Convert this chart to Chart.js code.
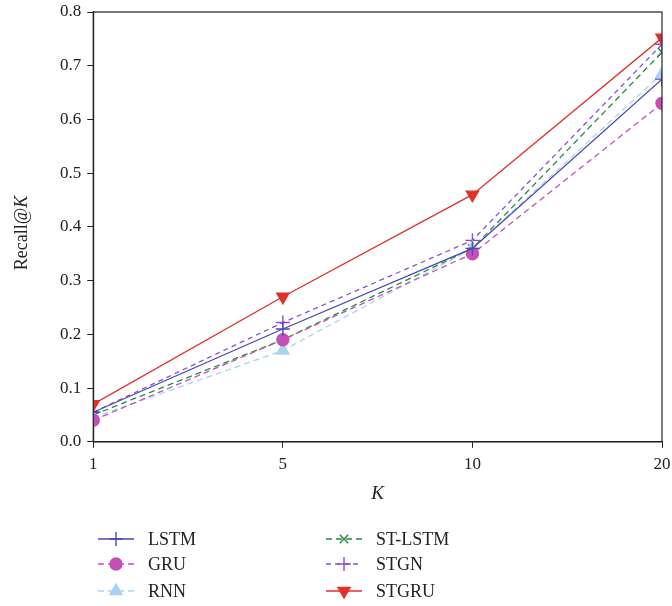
<!DOCTYPE html>
<html>
<head>
<meta charset="utf-8">
<script src="https://cdn.jsdelivr.net/npm/chart.js@4.4.0/dist/chart.umd.min.js"></script>
<style>
  html, body { margin: 0; padding: 0; background: #fff; }
  #wrap { width: 672px; height: 606px; }
</style>
</head>
<body>
<div id="wrap"><canvas id="recallChart" width="672" height="606"></canvas></div>
<script>
var kLabels = ["1", "5", "10", "20"];
var yTicks = [0, 0.1, 0.2, 0.3, 0.4, 0.5, 0.6, 0.7, 0.8];

var lstm = [0.055, 0.21, 0.36, 0.675];
var gru = [0.04, 0.19, 0.35, 0.63];
var rnn = [0.045, 0.17, 0.36, 0.685];
var stLstm = [0.05, 0.19, 0.36, 0.725];
var stgn = [0.055, 0.222, 0.375, 0.74];
var stgru = [0.07, 0.27, 0.46, 0.752];

var serif = "'Liberation Serif', 'DejaVu Serif', serif";

function series(label, data, color, style, radius, dash, rotation) {
  return {
    label: label,
    data: data,
    borderColor: color,
    backgroundColor: color,
    pointBorderColor: color,
    pointBackgroundColor: color,
    pointStyle: style,
    pointRadius: radius,
    pointBorderWidth: 1.4,
    pointRotation: rotation || 0,
    borderWidth: 1.3,
    borderDash: dash,
    tension: 0,
    fill: false,
    clip: 0
  };
}

var datasets = [
  series("LSTM", lstm, "#4a4ab0", "cross", 7, []),
  series("GRU", gru, "#c550b8", "circle", 6, [6, 4]),
  series("RNN", rnn, "#a9d3ef", "triangle", 7, [6, 4]),
  series("ST-LSTM", stLstm, "#1f8f3c", "crossRot", 6, [6, 4]),
  series("STGN", stgn, "#8d4fcf", "cross", 7, [5, 4]),
  series("STGRU", stgru, "#e0302a", "triangle", 7, [], 180)
];

// keep markers at the edges cut by the plot box
var clipToArea = {
  id: "clipToArea",
  beforeDatasetsDraw: function (chart) {
    var a = chart.chartArea;
    chart.ctx.save();
    chart.ctx.beginPath();
    chart.ctx.rect(a.left, a.top, a.right - a.left, a.bottom - a.top);
    chart.ctx.clip();
  },
  afterDatasetsDraw: function (chart) {
    chart.ctx.restore();
  }
};

var decorations = {
  id: "decorations",
  afterDraw: function (chart) {
    var ctx = chart.ctx;
    var a = chart.chartArea;
    ctx.save();
    ctx.strokeStyle = "#222";
    ctx.lineWidth = 1.2;
    ctx.strokeRect(a.left, a.top, a.right - a.left, a.bottom - a.top);

    // y axis title with italic K
    ctx.fillStyle = "#222";
    ctx.translate(22, (a.top + a.bottom) / 2 + 6);
    ctx.rotate(-Math.PI / 2);
    ctx.textBaseline = "middle";
    ctx.font = "18px " + serif;
    var w1 = ctx.measureText("Recall@").width;
    ctx.font = "italic 18px " + serif;
    var w2 = ctx.measureText("K").width;
    var start = -(w1 + w2) / 2;
    ctx.textAlign = "left";
    ctx.font = "18px " + serif;
    ctx.fillText("Recall@", start, 0);
    ctx.font = "italic 18px " + serif;
    ctx.fillText("K", start + w1, 0);
    ctx.restore();

    // legend in two columns
    var cols = [98, 326];
    var rows = [539, 564, 591];
    ctx.save();
    chart.data.datasets.forEach(function (ds, i) {
      var x0 = cols[Math.floor(i / 3)];
      var y = rows[i % 3];
      ctx.strokeStyle = ds.borderColor;
      ctx.lineWidth = ds.borderWidth;
      ctx.setLineDash(ds.borderDash);
      ctx.beginPath();
      ctx.moveTo(x0, y);
      ctx.lineTo(x0 + 36, y);
      ctx.stroke();
      ctx.setLineDash([]);
      ctx.fillStyle = ds.pointBackgroundColor;
      ctx.strokeStyle = ds.pointBorderColor;
      ctx.lineWidth = ds.pointBorderWidth;
      Chart.helpers.drawPoint(ctx, {
        pointStyle: ds.pointStyle,
        rotation: ds.pointRotation,
        radius: ds.pointRadius,
        borderWidth: ds.pointBorderWidth
      }, x0 + 18, y);
      ctx.fillStyle = "#222";
      ctx.font = "18px " + serif;
      ctx.textAlign = "left";
      ctx.textBaseline = "middle";
      ctx.fillText(ds.label, x0 + 50, y + 1);
    });
    ctx.restore();
  }
};

new Chart(document.getElementById("recallChart").getContext("2d"), {
  type: "line",
  data: { labels: kLabels, datasets: datasets },
  options: {
    responsive: false,
    animation: false,
    devicePixelRatio: 1,
    layout: { padding: { left: 54, right: 10, top: 12, bottom: 97 } },
    plugins: {
      legend: { display: false },
      tooltip: { enabled: false }
    },
    scales: {
      x: {
        type: "category",
        offset: false,
        afterFit: function (axis) {
          axis.paddingLeft = 0;
          axis.paddingRight = 0;
        },
        grid: { display: true, drawOnChartArea: false, drawTicks: true, tickLength: 6, color: "#222" },
        border: { color: "#222", width: 1.2 },
        ticks: { color: "#222", font: { family: serif, size: 17 }, padding: 7 },
        title: {
          display: true,
          text: "K",
          color: "#222",
          font: { family: serif, size: 19, style: "italic" },
          padding: { top: 0, bottom: 4 }
        }
      },
      y: {
        min: 0,
        max: 0.8,
        afterBuildTicks: function (axis) {
          axis.ticks = yTicks.map(function (v) { return { value: v }; });
        },
        afterFit: function (axis) {
          axis.paddingTop = 0;
          axis.paddingBottom = 0;
        },
        grid: { display: true, drawOnChartArea: false, drawTicks: true, tickLength: 6, color: "#222" },
        border: { color: "#222", width: 1.2 },
        ticks: {
          color: "#222",
          font: { family: serif, size: 17 },
          padding: 6,
          callback: function (v) { return Number(v).toFixed(1); }
        }
      }
    }
  },
  plugins: [clipToArea, decorations]
});
</script>
</body>
</html>
